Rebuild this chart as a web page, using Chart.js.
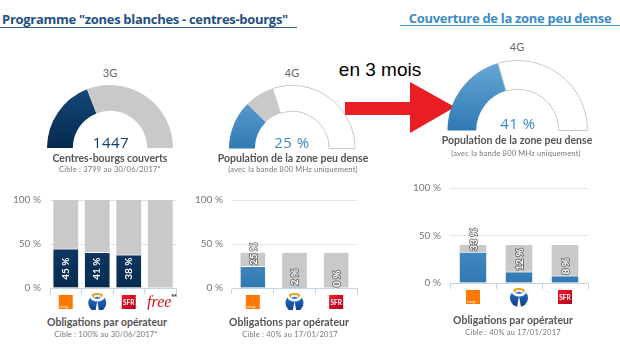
<!DOCTYPE html>
<html><head><meta charset="utf-8">
<script src="https://cdn.jsdelivr.net/npm/chart.js@4/dist/chart.umd.min.js"></script>
<style>
html,body{margin:0;padding:0;background:#fff}
body{width:620px;height:350px;overflow:hidden;position:relative;font-family:Lato,'Open Sans',sans-serif}
canvas{position:absolute}
.t{position:absolute;white-space:nowrap;transform:translate(-50%,-50%);line-height:1}
.line{position:absolute}
</style></head><body>

<div class="t" style="left:145px;top:19px;font-size:13px;font-weight:700;color:#1f4f82;font-family:'Open Sans';letter-spacing:-0.3px">Programme "zones blanches - centres-bourgs"</div>
<div class="line" style="left:0;top:27px;width:297px;height:1px;background:#2c5f94"></div>
<div class="t" style="left:510px;top:18px;font-size:13px;font-weight:700;color:#3d8bc6;font-family:'Open Sans';letter-spacing:-0.3px">Couverture de la zone peu dense</div>
<div class="line" style="left:400px;top:25px;width:220px;height:1px;background:#4b97cf"></div>

<div class="t" style="left:380px;top:69px;font-size:19px;color:#000;font-family:'Liberation Sans',Arial">en 3 mois</div>
<svg style="position:absolute;left:0;top:0" width="620" height="350"><polygon points="345,102 410,102 410,82 455,107 410,133 410,115 345,115" fill="#ea1c24"/></svg>

<canvas id="g1" width="126" height="63" style="left:47px;top:85px"></canvas>
<canvas id="g2" width="128" height="64" style="left:228px;top:85px"></canvas>
<canvas id="g3" width="141" height="71" style="left:447px;top:60px"></canvas>

<div class="t" style="left:110px;top:72px;font-size:11px;color:#666">3G</div>
<div class="t" style="left:292px;top:72px;font-size:11px;color:#666">4G</div>
<div class="t" style="left:517px;top:46px;font-size:11px;color:#666">4G</div>

<div class="t" id="v1" style="left:111px;top:142px;font-size:15px;color:#0f3c6e;font-family:'Open Sans';letter-spacing:0.5px"></div>
<div class="t" id="v2" style="left:292px;top:142px;font-size:15px;color:#3a87c4;font-family:'Open Sans';letter-spacing:0.5px"></div>
<div class="t" id="v3" style="left:518px;top:123px;font-size:15px;color:#3a87c4;font-family:'Open Sans';letter-spacing:0.5px"></div>

<div class="t" style="left:110px;top:158px;font-size:10.5px;font-weight:700;color:#555">Centres-bourgs couverts</div>
<div class="t" style="left:110px;top:170px;font-size:7.5px;color:#777;letter-spacing:0.2px">Cible : 3799 au 30/06/2017*</div>
<div class="t" style="left:293px;top:158px;font-size:10.5px;font-weight:700;color:#555">Population de la zone peu dense</div>
<div class="t" style="left:293px;top:170px;font-size:7.5px;color:#777;letter-spacing:0.2px">(avec la bande 800 MHz uniquement)</div>
<div class="t" style="left:517px;top:140px;font-size:10.5px;font-weight:700;color:#555">Population de la zone peu dense</div>
<div class="t" style="left:516px;top:154px;font-size:7.5px;color:#777;letter-spacing:0.2px">(avec la bande 800 MHz uniquement)</div>

<canvas id="b1" width="185" height="125" style="left:0px;top:185px"></canvas>
<canvas id="b2" width="185" height="125" style="left:180px;top:185px"></canvas>
<canvas id="b3" width="200" height="135" style="left:400px;top:173px"></canvas>

<div class="t" style="left:107px;top:322px;font-size:10.5px;font-weight:700;color:#555">Obligations par opérateur</div>
<div class="t" style="left:106px;top:335px;font-size:7.5px;color:#777;letter-spacing:0.2px">Cible : 100% au 30/06/2017*</div>
<div class="t" style="left:289px;top:322px;font-size:10.5px;font-weight:700;color:#555">Obligations par opérateur</div>
<div class="t" style="left:290px;top:335px;font-size:7.5px;color:#777;letter-spacing:0.2px">Cible : 40% au 17/01/2017</div>
<div class="t" style="left:513px;top:320px;font-size:10.5px;font-weight:700;color:#555">Obligations par opérateur</div>
<div class="t" style="left:513px;top:333px;font-size:7.5px;color:#777;letter-spacing:0.2px">Cible : 40% au 17/01/2017</div>

<script>
// ---- data ----
const covered3G = 1447;
const target3G = 3799;
const coverage4GJan = 25;
const target4GPct = 40;
const coverage4GApr = 41;

const operators3G = ['Orange', 'Bouygues Telecom', 'SFR', 'Free'];
const values3G = [45, 41, 38, null];
const targets3G = [100, 100, 100, 100];

const operators4G = ['Orange', 'Bouygues Telecom', 'SFR'];
const values4GJan = [25, 2, 0];
const values4GApr = [33, 12, 8];
const targets4G = [40, 40, 40];

const yTickValues = [0, 50, 100];

document.getElementById('v1').textContent = covered3G;
document.getElementById('v2').textContent = coverage4GJan + ' %';
document.getElementById('v3').textContent = coverage4GApr + ' %';

// ---- colours ----
function makeGrad(chart, top, bottom) {
  const a = chart.chartArea;
  if (!a) return bottom;
  const g = chart.ctx.createLinearGradient(0, a.top, 0, a.bottom);
  g.addColorStop(0, top); g.addColorStop(1, bottom);
  return g;
}
const NAVY = ['#15497c', '#062a4e'];
const BLUE = ['#68a9d7', '#2f79b2'];
const gray = '#c9c9c9';
const navy = (ctx) => makeGrad(ctx.chart, NAVY[0], NAVY[1]);
const blue = (ctx) => makeGrad(ctx.chart, BLUE[0], BLUE[1]);

// ---- gauges ----
function gauge(id, data, colors, borders) {
  new Chart(document.getElementById(id), {
    type: 'doughnut',
    data: { datasets: [{
      data,
      backgroundColor: (ctx) => {
        const c = colors[ctx.dataIndex];
        return Array.isArray(c) ? makeGrad(ctx.chart, c[0], c[1]) : c;
      },
      borderColor: '#c8c8c8',
      borderWidth: borders
    }] },
    options: {
      responsive: false, animation: false, rotation: -90, circumference: 180, cutout: '59%',
      layout: { padding: 0 },
      plugins: { legend: { display: false }, tooltip: { enabled: false } }
    }
  });
}
gauge('g1', [covered3G, target3G - covered3G], [NAVY, gray], [0, 0]);
gauge('g2', [coverage4GJan, target4GPct - coverage4GJan, 100 - target4GPct], [BLUE, gray, '#ffffff'], [0, 0, 1]);
gauge('g3', [coverage4GApr, 100 - coverage4GApr], [BLUE, '#ffffff'], [0, 1]);

// ---- logos ----
const logo = {
  'Orange': (c, x, y) => {
    c.fillStyle = '#ff7900'; c.fillRect(x - 7, y - 7, 14, 14);
    c.fillStyle = '#fff'; c.font = '3px Lato'; c.textAlign = 'left'; c.textBaseline = 'alphabetic';
    c.fillText('orange', x - 6, y + 6);
  },
  'Bouygues Telecom': (c, x, y) => {
    const g = c.createLinearGradient(x, y - 9, x, y + 9);
    g.addColorStop(0, '#2a7fd0'); g.addColorStop(1, '#0b3c8c');
    c.fillStyle = g; c.beginPath(); c.arc(x, y + 1, 9, 0, Math.PI * 2); c.fill();
    c.fillStyle = '#fff'; c.beginPath(); c.ellipse(x, y - 4.5, 7, 4, 0, 0, Math.PI * 2); c.fill();
    c.beginPath(); c.moveTo(x, y - 1); c.lineTo(x - 2.2, y + 11); c.lineTo(x + 2.2, y + 11); c.closePath(); c.fill();
    c.fillStyle = '#f39200'; c.beginPath(); c.ellipse(x, y - 6.5, 5.5, 2.6, 0, 0, Math.PI * 2); c.fill();
    c.fillStyle = '#fff'; c.beginPath(); c.ellipse(x, y - 5.8, 3.5, 1.4, 0, 0, Math.PI * 2); c.fill();
    c.fillStyle = '#2a7fd0'; c.beginPath(); c.ellipse(x, y - 4.2, 3, 1.1, 0, 0, Math.PI * 2); c.fill();
  },
  'SFR': (c, x, y) => {
    const g = c.createLinearGradient(x - 7, y - 7, x + 7, y + 7);
    g.addColorStop(0, '#ef1c2a'); g.addColorStop(1, '#b3001b');
    c.fillStyle = g; c.fillRect(x - 7, y - 7, 14, 14);
    c.fillStyle = '#fff'; c.font = 'bold 6.5px Lato'; c.textAlign = 'center'; c.textBaseline = 'middle';
    c.fillText('SFR', x, y + 0.5);
  },
  'Free': (c, x, y) => {
    c.fillStyle = '#d0121b'; c.font = 'italic 16px "Liberation Serif"'; c.textAlign = 'center'; c.textBaseline = 'middle';
    c.fillText('free', x - 1, y + 1);
    c.font = 'bold 7px "Liberation Sans"'; c.fillStyle = '#333';
    c.fillText('**', x + 14, y - 5);
  }
};

// ---- bar charts ----
function barChart(id, ops, values, targets, color, opts) {
  new Chart(document.getElementById(id), {
    type: 'bar',
    data: {
      labels: ops,
      datasets: [
        { data: values, backgroundColor: color, grouped: false, order: 0,
          barPercentage: opts.bp, categoryPercentage: 1,
          borderColor: '#ffffff', borderWidth: { top: 1, left: 0, right: 0, bottom: 0 }, borderSkipped: 'bottom' },
        { data: targets, backgroundColor: gray, grouped: false, order: 1,
          barPercentage: opts.bp, categoryPercentage: 1 }
      ]
    },
    options: {
      responsive: false, animation: false,
      layout: { padding: { top: opts.pt, right: opts.pr, bottom: opts.pb, left: 0 } },
      plugins: { legend: { display: false }, tooltip: { enabled: false } },
      scales: {
        x: {
          offset: true,
          grid: { display: true, offset: true, drawOnChartArea: false, drawTicks: true, tickLength: 6, color: '#c3d4e7' },
          border: { color: '#c3d4e7' },
          ticks: { display: false }
        },
        y: {
          min: 0, max: 100,
          afterBuildTicks: (s) => { s.ticks = yTickValues.map(v => ({ value: v })); },
          afterFit: (s) => { s.width = opts.yw; },
          ticks: { callback: (v) => v + ' %', color: '#777', font: { size: 10, family: 'Lato' }, padding: 9 },
          grid: { color: '#e3e3e3', drawTicks: false },
          border: { display: false }
        }
      }
    },
    plugins: [{
      id: 'decor',
      afterDatasetsDraw(chart) {
        const c = chart.ctx, ys = chart.scales.y;
        const meta = chart.getDatasetMeta(0);
        meta.data.forEach((bar, i) => {
          const v = values[i];
          if (v === null || v === undefined) return;
          const txt = v + ' %';
          c.save();
          c.font = 'bold 10px Lato';
          c.textBaseline = 'middle';
          if (opts.inside) {
            c.translate(bar.x, ys.getPixelForValue(22));
            c.rotate(-Math.PI / 2);
            c.textAlign = 'center';
            c.fillStyle = '#fff';
            c.fillText(txt, 0, 0);
          } else {
            c.translate(bar.x + 0.5, ys.getPixelForValue(v) - 1);
            c.rotate(-Math.PI / 2);
            c.textAlign = 'left';
            c.lineJoin = 'round';
            c.lineWidth = 2;
            c.strokeStyle = 'rgba(80,80,80,0.7)';
            c.strokeText(txt, 0, 0);
            c.fillStyle = '#fff';
            c.fillText(txt, 0, 0);
          }
          c.restore();
        });
      },
      afterDraw(chart) {
        const c = chart.ctx, xs = chart.scales.x;
        const y = chart.chartArea.bottom + 14;
        ops.forEach((name, i) => {
          c.save();
          logo[name](c, xs.getPixelForValue(i), y);
          c.restore();
        });
      }
    }]
  });
}

barChart('b1', operators3G, values3G, targets3G, navy, { bp: 0.79, inside: true, yw: 50, pt: 12, pr: 9, pb: 16 });
barChart('b2', operators4G, values4GJan, targets4G, blue, { bp: 0.59, inside: false, yw: 52, pt: 12, pr: 8, pb: 16 });
barChart('b3', operators4G, values4GApr, targets4G, blue, { bp: 0.58, inside: false, yw: 50, pt: 12, pr: 12, pb: 19 });
</script>
</body></html>
